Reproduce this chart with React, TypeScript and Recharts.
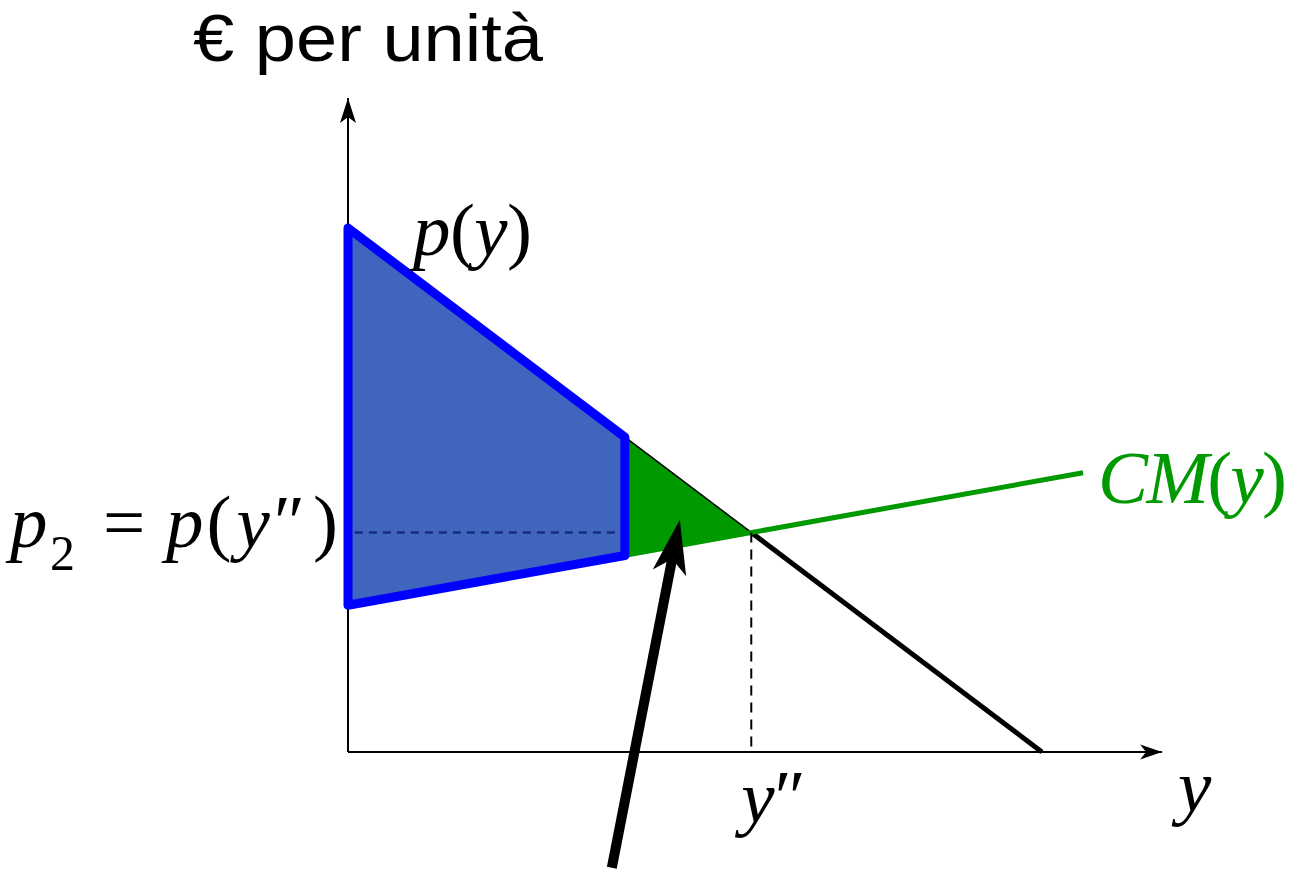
import { Area, ComposedChart, Line, ReferenceDot, XAxis, YAxis } from "recharts";

// quantities (y) on the horizontal axis, € per unit on the vertical one
const demand = [
  { q: 0, p: 10 },
  { q: 10.1, p: 0 },
];
const avgCost = [
  { q: 0, p: 2.8 },
  { q: 10.7, p: 5.33 },
];
const yStar = 5.87; // y''
const p2 = 4.19; // p(y'')
const q1 = 4.03; // right edge of the blue region
const pAtQ1 = 6.01;
const cmAtQ1 = 3.75;

const axisY = [
  { q: 0, p: 0 },
  { q: 0, p: 12.48 },
];
const axisX = [
  { q: 0, p: 0 },
  { q: 11.85, p: 0 },
];
const pointer = [
  { q: 3.84, p: -2.21 },
  { q: 4.83, p: 4.43 },
];

const blueArea = [
  { q: 0, range: [avgCost[0].p, demand[0].p] },
  { q: q1, range: [cmAtQ1, pAtQ1] },
];
const greenArea = [
  { q: q1, range: [cmAtQ1, pAtQ1] },
  { q: yStar, range: [p2, p2] },
];
const blueOutline = [
  { q: 0, p: 10 },
  { q: q1, p: pAtQ1 },
  { q: q1, p: cmAtQ1 },
  { q: 0, p: 2.8 },
  { q: 0, p: 10 },
  { q: q1, p: pAtQ1 },
];
const demandUpper = [
  { q: 0, p: 10 },
  { q: yStar, p: p2 },
];
const demandLower = [
  { q: yStar, p: p2 },
  { q: 10.1, p: 0 },
];
const p2Dash = [
  { q: 0.1, p: p2 },
  { q: q1, p: p2 },
];
const yStarDash = [
  { q: yStar, p: p2 },
  { q: yStar, p: 0 },
];

// pixels per unit, and where the origin sits on the page
const PX_X = 68.7;
const PX_Y = 52.4;
const W = 1290;
const H = 871;
const ORIGIN_X = 348;
const ORIGIN_Y = 752;

const xDomain = [-ORIGIN_X / PX_X, (W - ORIGIN_X) / PX_X];
const yDomain = [-(H - ORIGIN_Y) / PX_Y, ORIGIN_Y / PX_Y];

const SERIF = "'Liberation Serif', 'Times New Roman', serif";
const SANS = "'Liberation Sans', Arial, sans-serif";
const GREEN = "#009900";

type Pt = { q: number; p: number };

function angleOf(pts: Pt[]) {
  const a = pts[0];
  const b = pts[pts.length - 1];
  return (Math.atan2(-(b.p - a.p) * PX_Y, (b.q - a.q) * PX_X) * 180) / Math.PI;
}

function pixelLength(pts: Pt[]) {
  const a = pts[0];
  const b = pts[pts.length - 1];
  return Math.hypot((b.q - a.q) * PX_X, (b.p - a.p) * PX_Y);
}

function Head({
  pts,
  len,
  width,
  notch,
}: {
  pts: Pt[];
  len: number;
  width: number;
  notch: number;
}) {
  const tip = pts[pts.length - 1];
  const angle = angleOf(pts);
  return (
    <ReferenceDot
      x={tip.q}
      y={tip.p}
      r={0}
      ifOverflow="visible"
      shape={(s: any) => (
        <path
          d={`M0,0 L${-len},${-width / 2} L${-notch},0 L${-len},${width / 2} Z`}
          fill="#000"
          stroke="none"
          transform={`translate(${s.cx},${s.cy}) rotate(${angle})`}
        />
      )}
    />
  );
}

const pointerLen = pixelLength(pointer);

const plain = {
  type: "linear" as const,
  dot: false,
  activeDot: false,
  isAnimationActive: false,
};

export default function App() {
  return (
    <div
      style={{
        position: "absolute",
        left: 0,
        top: 0,
        width: W,
        height: H,
        background: "#fff",
      }}
    >
      <ComposedChart
        width={W}
        height={H}
        margin={{ top: 0, right: 0, bottom: 0, left: 0 }}
      >
        <XAxis
          type="number"
          dataKey="q"
          domain={xDomain}
          allowDataOverflow
          hide
        />
        <YAxis type="number" domain={yDomain} allowDataOverflow hide />

        <Line {...plain} data={axisY} dataKey="p" stroke="#000" strokeWidth={2} />
        <Line {...plain} data={axisX} dataKey="p" stroke="#000" strokeWidth={2} />

        <Area
          {...plain}
          data={blueArea}
          dataKey="range"
          fill="#4065be"
          fillOpacity={1}
          stroke="none"
        />
        <Line
          {...plain}
          data={demandUpper}
          dataKey="p"
          stroke="#000"
          strokeWidth={1.5}
        />
        <Area
          {...plain}
          data={greenArea}
          dataKey="range"
          fill={GREEN}
          fillOpacity={1}
          stroke="none"
        />
        <Line
          {...plain}
          data={demandLower}
          dataKey="p"
          stroke="#000"
          strokeWidth={5}
        />
        <Line {...plain} data={avgCost} dataKey="p" stroke={GREEN} strokeWidth={5} />
        <Line
          {...plain}
          data={p2Dash}
          dataKey="p"
          stroke="#172d7d"
          strokeWidth={2.5}
          strokeDasharray="8 6"
        />
        <Line
          {...plain}
          data={yStarDash}
          dataKey="p"
          stroke="#000"
          strokeWidth={2}
          strokeDasharray="10 7"
        />
        <Line
          {...plain}
          data={blueOutline}
          dataKey="p"
          stroke="#0000ff"
          strokeWidth={9}
          strokeLinejoin="round"
          fill="none"
        />
        <Line
          {...plain}
          data={pointer}
          dataKey="p"
          stroke="#000"
          strokeWidth={10}
          strokeDasharray={`${pointerLen - 40} ${pointerLen}`}
        />

        {Head({ pts: axisY, len: 25, width: 16, notch: 19 })}
        {Head({ pts: axisX, len: 22, width: 15, notch: 16 })}
        {Head({ pts: pointer, len: 54, width: 34, notch: 40 })}

        <ReferenceDot
          x={0}
          y={axisY[1].p}
          r={0}
          ifOverflow="visible"
          shape={(s: any) => (
            <text
              x={s.cx - 155}
              y={s.cy - 37}
              fontFamily={SANS}
              fontSize={66}
              textLength={350}
              lengthAdjust="spacingAndGlyphs"
              fill="#000"
            >
              € per unità
            </text>
          )}
        />
        <ReferenceDot
          x={0}
          y={demand[0].p}
          r={0}
          ifOverflow="visible"
          shape={(s: any) => (
            <text
              x={s.cx + 65}
              y={s.cy + 27}
              fontFamily={SERIF}
              fontSize={75}
              textLength={119}
              lengthAdjust="spacing"
              fill="#000"
            >
              <tspan fontStyle="italic">p</tspan>
              <tspan>(</tspan>
              <tspan fontStyle="italic">y</tspan>
              <tspan>)</tspan>
            </text>
          )}
        />
        <ReferenceDot
          x={0}
          y={p2}
          r={0}
          ifOverflow="visible"
          shape={(s: any) => (
            <g fontFamily={SERIF} fill="#000">
              <text x={s.cx - 338} y={s.cy + 15} fontSize={75} fontStyle="italic">
                p
              </text>
              <text x={s.cx - 298} y={s.cy + 38} fontSize={50}>
                2
              </text>
              <text x={s.cx - 245} y={s.cy + 15} fontSize={75}>
                =
              </text>
              <text x={s.cx - 182} y={s.cy + 15} fontSize={75}>
                <tspan fontStyle="italic">p</tspan>
                <tspan dx={3}>(</tspan>
                <tspan fontStyle="italic" dx={5}>
                  y
                </tspan>
                <tspan dx={4}>″</tspan>
                <tspan dx={8}>)</tspan>
              </text>
            </g>
          )}
        />
        <ReferenceDot
          x={avgCost[1].q}
          y={avgCost[1].p}
          r={0}
          ifOverflow="visible"
          shape={(s: any) => (
            <text
              x={s.cx + 15}
              y={s.cy + 30}
              fontFamily={SERIF}
              fontSize={75}
              textLength={189}
              lengthAdjust="spacing"
              fill={GREEN}
            >
              <tspan fontStyle="italic">CM</tspan>
              <tspan>(</tspan>
              <tspan fontStyle="italic">y</tspan>
              <tspan>)</tspan>
            </text>
          )}
        />
        <ReferenceDot
          x={yStar}
          y={0}
          r={0}
          ifOverflow="visible"
          shape={(s: any) => (
            <text
              x={s.cx - 10}
              y={s.cy + 70}
              fontFamily={SERIF}
              fontSize={75}
              fill="#000"
            >
              <tspan fontStyle="italic">y</tspan>
              <tspan>″</tspan>
            </text>
          )}
        />
        <ReferenceDot
          x={axisX[1].q}
          y={0}
          r={0}
          ifOverflow="visible"
          shape={(s: any) => (
            <text
              x={s.cx + 16}
              y={s.cy + 59}
              fontFamily={SERIF}
              fontSize={75}
              fontStyle="italic"
              fill="#000"
            >
              y
            </text>
          )}
        />
      </ComposedChart>
    </div>
  );
}
